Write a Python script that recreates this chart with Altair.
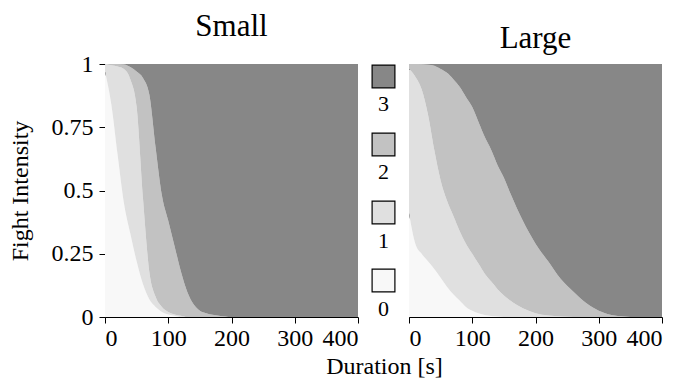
import altair as alt
import pandas as pd

# Duration grid [s]
T = [0, 10, 20, 30, 40, 50, 60, 70, 80, 90, 100, 110, 120, 130, 140, 150, 160,
     180, 200, 220, 240, 260, 280, 300, 320, 340, 360, 380, 400]

# Cumulative upper boundaries (level 0; levels 0+1; levels 0+1+2) - Small
SMALL_C0 = [0.97, 0.84, 0.64, 0.45, 0.33, 0.22, 0.13, 0.07, 0.04, 0.02, 0.01, 0.005,
            0, 0, 0, 0, 0, 0, 0, 0, 0, 0, 0, 0, 0, 0, 0, 0, 0]
SMALL_C01 = [1.0, 0.995, 0.99, 0.98, 0.94, 0.83, 0.47, 0.18, 0.08, 0.04, 0.02, 0.01, 0.005,
             0, 0, 0, 0, 0, 0, 0, 0, 0, 0, 0, 0, 0, 0, 0, 0]
SMALL_C012 = [1, 1, 1, 0.998, 0.988, 0.97, 0.945, 0.88, 0.67, 0.48, 0.38, 0.28, 0.18, 0.1,
              0.05, 0.025, 0.015, 0.005, 0, 0, 0, 0, 0, 0, 0, 0, 0, 0, 0]

# Large
LARGE_C0 = [0.41, 0.29, 0.25, 0.22, 0.19, 0.155, 0.12, 0.09, 0.065, 0.04, 0.025, 0.015,
            0.008, 0.004, 0.002, 0, 0, 0, 0, 0, 0, 0, 0, 0, 0, 0, 0, 0, 0]
LARGE_C01 = [0.98, 0.95, 0.9, 0.8, 0.66, 0.54, 0.46, 0.4, 0.34, 0.29, 0.25, 0.21, 0.17,
             0.14, 0.11, 0.085, 0.065, 0.035, 0.015, 0.006, 0.002, 0, 0, 0, 0, 0, 0, 0, 0]
LARGE_C012 = [1, 1, 0.999, 0.997, 0.993, 0.98, 0.965, 0.94, 0.91, 0.87, 0.83, 0.77, 0.71,
              0.66, 0.6, 0.55, 0.49, 0.38, 0.29, 0.22, 0.15, 0.1, 0.055, 0.025, 0.008,
              0.002, 0, 0, 0]

LEVELS = ["0", "1", "2", "3"]
LEGEND_ORDER = ["3", "2", "1", "0"]
COLORS = ["#f8f8f8", "#e0e0e0", "#c2c2c2", "#878787"]
Y_TICKS = [0, 0.25, 0.5, 0.75, 1]
X_TICKS = [0, 100, 200, 300, 400]
FONT = "Liberation Serif"


def build(c0, c01, c012):
    rows = []
    for i, t in enumerate(T):
        bounds = [0.0, c0[i], c01[i], c012[i], 1.0]
        for k, lev in enumerate(LEVELS):
            rows.append({"t": t, "level": lev, "lower": bounds[k], "upper": bounds[k + 1]})
    return pd.DataFrame(rows)


small_df = build(SMALL_C0, SMALL_C01, SMALL_C012)
large_df = build(LARGE_C0, LARGE_C01, LARGE_C012)
legend_df = pd.DataFrame({"level": LEGEND_ORDER})

color_scale = alt.Scale(domain=LEVELS, range=COLORS)
W = 253
H = 253

AX = dict(labelFont=FONT, titleFont=FONT, labelColor="black", titleColor="black",
          domainColor="black", tickColor="black", titleFontWeight="normal",
          labelFontSize=24, titleFontSize=24, grid=False)


def panel(df, name, first):
    if first:
        xaxis = alt.Axis(values=X_TICKS, title="Duration [s]",
                         titleX=279, titleAlign="center", titlePadding=4,
                         tickSize=6, labelPadding=3, **AX)
        yaxis = alt.Axis(values=Y_TICKS, labelExpr="toString(datum.value)",
                         title="Fight Intensity", tickSize=6, labelPadding=6,
                         titleX=-85, titleY=H / 2, titleAngle=270, titleAlign="center",
                         titleBaseline="middle", **AX)
    else:
        xaxis = alt.Axis(values=X_TICKS, title=None, tickSize=6, labelPadding=3, **AX)
        yaxis = alt.Axis(values=Y_TICKS, labels=False, ticks=False, title=None, **AX)
    return alt.Chart(df).mark_area(interpolate="monotone").encode(
        x=alt.X("t:Q", scale=alt.Scale(domain=[0, 400], nice=False), axis=xaxis),
        y=alt.Y("upper:Q", scale=alt.Scale(domain=[0, 1], nice=False), stack=None, axis=yaxis),
        y2="lower:Q",
        color=alt.Color("level:N", scale=color_scale, legend=None),
    ).properties(
        width=W, height=H,
        title=alt.TitleParams(name, fontSize=31, font=FONT, fontWeight="normal", offset=9,
                              color="black"),
    )


left = panel(small_df, "Small", True)
right = panel(large_df, "Large", False)

ypos = alt.Y("level:N", sort=LEGEND_ORDER, scale=alt.Scale(type="point", padding=0.36), axis=None)
leg_sq = alt.Chart(legend_df).mark_square(size=520, stroke="black", strokeWidth=1.2,
                                          opacity=1, yOffset=-12).encode(
    y=ypos,
    fill=alt.Fill("level:N", scale=color_scale, legend=None),
)
leg_tx = alt.Chart(legend_df).mark_text(dy=16, fontSize=22, font=FONT, color="black").encode(
    y=ypos,
    text="level:N",
)
legend = alt.layer(leg_sq, leg_tx).properties(width=23, height=H)

chart = alt.hconcat(
    left, legend, right, spacing=14, bounds="flush"
).properties(
    padding={"left": 0, "top": 3, "right": 5, "bottom": 0},
).configure(
    font=FONT, background="white"
).configure_axis(
    labelFont=FONT, titleFont=FONT, labelColor="black", titleColor="black",
    domainColor="black", tickColor="black", titleFontWeight="normal",
).configure_view(
    stroke=None
)

chart.save("out.html", embed_options={"renderer": "svg", "actions": False})
